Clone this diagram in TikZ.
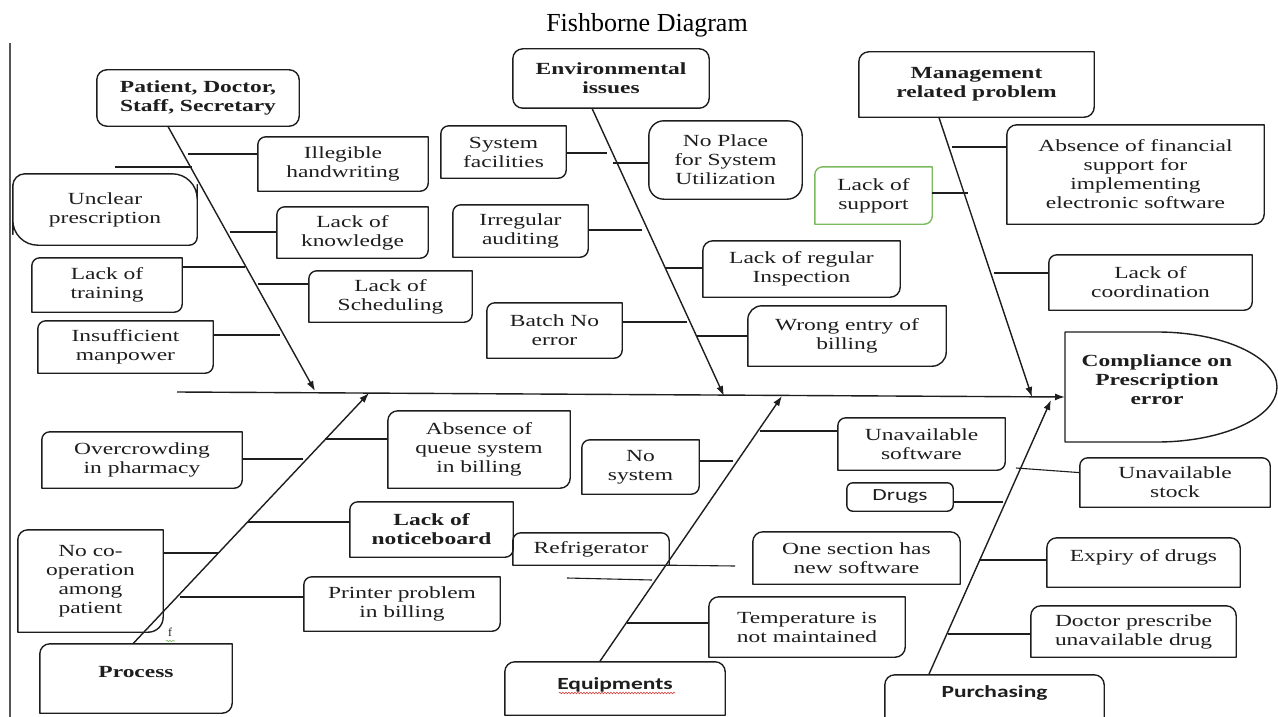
\documentclass[tikz,border=0pt]{standalone}
\usepackage{fontspec}
\setmainfont{Liberation Serif}
\newfontfamily\bxf{Liberation Serif}[FakeStretch=1.38]
\newfontfamily\bxs{Carlito}[FakeStretch=1.38]
\usetikzlibrary{arrows.meta,calc,decorations.pathmorphing}
\definecolor{ink}{RGB}{30,30,30}
\definecolor{grn}{RGB}{125,185,95}
\definecolor{wavy}{RGB}{215,60,60}
\tikzset{
 box/.style={draw=none, align=center, inner sep=0pt, text=ink, font=\bxf\fontsize{17}{19}\selectfont},
 bfbox/.style={box, font=\bxf\fontsize{17}{19}\selectfont\bfseries},
 sfbox/.style={box, font=\bxs\fontsize{17}{19}\selectfont},
 sfbfbox/.style={box, font=\bxs\fontsize{17}{19}\selectfont\bfseries},
 bline/.style={draw=ink, line width=1.4pt, line join=round},
 gline/.style={draw=grn, line width=1.4pt, line join=round},
 bone/.style={draw=ink, line width=1.4pt, -{Latex[length=10pt,width=7pt]}},
 rib/.style={draw=ink, line width=1.1pt},
}
% #1 style, #2 name, #3 x1, #4 y1, #5 x2, #6 y2, #7 text
\newcommand\mkbox[7][box]{\node[#1,minimum width={#5-#3},minimum height={#6-#4}] (#2) at ({(#3+#5)/2},{(#4+#6)/2}) {#7};}
% #1 line style, #2 name, radii NE, SE, SW, NW
\newcommand\mkborder[6][bline]{\draw[#1] (#2.north) [rounded corners=#3] -- (#2.north east) -- (#2.east) [rounded corners=#4] -- (#2.south east) -- (#2.south) [rounded corners=#5] -- (#2.south west) -- (#2.west) [rounded corners=#6] -- (#2.north west) -- (#2.north);}
\begin{document}
\begin{tikzpicture}[x=1pt,y=-1pt]
\useasboundingbox[fill=white] (0,0) rectangle (1278,717);
\node[font=\fontsize{26}{30}\selectfont] (title) at (647,25) {Fishborne Diagram};
\draw[draw=ink!75, line width=1.5pt] (10,43) -- (10,717);

% ---------- upper left branch
\mkbox[bfbox]{pds}{97}{70}{299}{126}{Patient, Doctor,\\Staff, Secretary}
\mkborder{pds}{10pt}{10pt}{10pt}{10pt}
\mkbox{ill}{258}{137}{428}{191}{Illegible\\handwriting}
\mkborder{ill}{0pt}{8pt}{0pt}{8pt}
\mkbox{unc}{13}{174}{197}{245}{Unclear\\prescription}
\mkborder{unc}{25pt}{8pt}{25pt}{12pt}
\mkbox{lok}{277}{207}{428}{258}{Lack of\\knowledge}
\mkborder{lok}{0pt}{8pt}{0pt}{8pt}
\mkbox{lot}{32}{258}{182}{312}{Lack of\\training}
\mkborder{lot}{0pt}{8pt}{0pt}{8pt}
\mkbox{los}{309}{271}{472}{322}{Lack of\\Scheduling}
\mkborder{los}{0pt}{8pt}{0pt}{8pt}
\mkbox{ins}{38}{321}{213}{373}{Insufficient\\manpower}
\mkborder{ins}{0pt}{8pt}{0pt}{8pt}

% ---------- lower left branch
\mkbox{ovc}{42}{432}{242}{488}{Overcrowding\\in pharmacy}
\mkborder{ovc}{0pt}{8pt}{0pt}{8pt}
\mkbox{aqs}{388}{411}{570}{488}{Absence of\\queue system\\in billing}
\mkborder{aqs}{0pt}{10pt}{0pt}{10pt}
\mkbox{nco}{18}{530}{163}{632}{No co-\\operation\\among\\patient}
\mkborder{nco}{0pt}{15pt}{0pt}{10pt}
\mkbox[bfbox]{lnb}{350}{502}{513}{557}{Lack of\\noticeboard}
\mkborder{lnb}{0pt}{8pt}{0pt}{8pt}
\mkbox{ppb}{304}{577}{500}{631}{Printer problem\\in billing}
\mkborder{ppb}{0pt}{8pt}{0pt}{8pt}
\mkbox[bfbox]{proc}{40}{644}{232}{713}{\raisebox{13pt}{Process}}
\mkborder{proc}{0pt}{10pt}{0pt}{10pt}
\node[font=\fontsize{12}{12}\selectfont, text=ink] (fmark) at (170,632) {f};
\draw[grn, line width=0.6pt, decorate, decoration={snake, amplitude=0.7pt, segment length=3pt}] (166,641) -- (175,641);

% ---------- upper middle branch
\mkbox[bfbox]{env}{513}{49}{709}{108}{Environmental\\issues}
\mkborder{env}{10pt}{10pt}{10pt}{10pt}
\mkbox{sf}{441}{126}{566}{178}{System\\facilities}
\mkborder{sf}{0pt}{8pt}{0pt}{8pt}
\mkbox{npl}{649}{121}{802}{199}{No Place\\for System\\Utilization}
\mkborder{npl}{15pt}{15pt}{15pt}{15pt}
\mkbox{ira}{453}{205}{588}{257}{Irregular\\auditing}
\mkborder{ira}{0pt}{8pt}{0pt}{8pt}
\mkbox{lri}{703}{241}{900}{297}{Lack of regular\\Inspection}
\mkborder{lri}{0pt}{10pt}{0pt}{10pt}
\mkbox{bne}{487}{303}{622}{358}{Batch No\\error}
\mkborder{bne}{0pt}{8pt}{0pt}{8pt}
\mkbox{web}{748}{306}{946}{366}{Wrong entry of\\billing}
\mkborder{web}{0pt}{14pt}{0pt}{14pt}

% ---------- lower middle branch
\mkbox{nsy}{582}{440}{699}{494}{No\\system}
\mkborder{nsy}{0pt}{8pt}{0pt}{8pt}
\mkbox{uns}{838}{418}{1005}{470}{Unavailable\\software}
\mkborder{uns}{0pt}{8pt}{0pt}{8pt}
\mkbox{ref}{513}{533}{669}{565}{Refrigerator}
\mkborder{ref}{8pt}{0pt}{0pt}{8pt}
\mkbox{osn}{753}{532}{960}{584}{One section has\\new software}
\mkborder{osn}{10pt}{0pt}{0pt}{10pt}
\mkbox{tnm}{709}{597}{905}{657}{Temperature is\\not maintained}
\mkborder{tnm}{0pt}{10pt}{0pt}{10pt}
\mkbox[sfbfbox]{equ}{505}{662}{725}{715}{\raisebox{9pt}{Equipments}}
\mkborder{equ}{10pt}{0pt}{0pt}{10pt}
\draw[wavy, line width=0.6pt, decorate, decoration={snake, amplitude=0.8pt, segment length=3pt}] (559,693) -- (675,693);

% ---------- upper right branch
\mkbox[bfbox]{mgmt}{859}{52}{1094}{117}{Management\\related problem}
\mkborder{mgmt}{0pt}{10pt}{0pt}{10pt}
\mkbox{afs}{1007}{125}{1264}{224}{Absence of financial\\support for\\implementing\\electronic software}
\mkborder{afs}{0pt}{10pt}{0pt}{10pt}
\mkbox{lsup}{815}{167}{932}{224}{Lack of\\support}
\mkborder[gline]{lsup}{0pt}{8pt}{0pt}{8pt}
\mkbox{loc}{1049}{255}{1252}{310}{Lack of\\coordination}
\mkborder{loc}{0pt}{8pt}{0pt}{8pt}

% ---------- lower right branch
\mkbox{ust}{1080}{458}{1270}{507}{Unavailable\\stock}
\mkborder{ust}{8pt}{0pt}{0pt}{8pt}
\mkbox[sfbox]{drg}{847}{483}{953}{511}{Drugs}
\mkborder{drg}{6pt}{6pt}{6pt}{6pt}
\mkbox{exp}{1047}{538}{1240}{587}{\raisebox{13pt}{Expiry of drugs}}
\mkborder{exp}{10pt}{0pt}{0pt}{10pt}
\mkbox{dpu}{1031}{606}{1236}{657}{Doctor prescribe\\unavailable drug}
\mkborder{dpu}{10pt}{0pt}{0pt}{10pt}
\mkbox[sfbfbox]{pur}{885}{675}{1104}{722}{\raisebox{13pt}{Purchasing}}
\mkborder{pur}{10pt}{0pt}{0pt}{10pt}

% ---------- effect
\node[bfbox, minimum width=184, minimum height=96] (eff) at (1157,380) {Compliance on\\Prescription\\error};
\draw[bline] (1157,332) -- (1065,332) -- (1065,442) -- (1157,442) .. controls (1223,442) and (1277,417) .. (1277,387) .. controls (1277,357) and (1223,332) .. (1157,332) -- cycle;

% ---------- spine and bones
\coordinate (s0) at (177,392);
\coordinate (s1) at (1065,397);
\draw[bone] (s0) -- (s1);
\coordinate (t1) at (315,391);
\coordinate (t2) at (369,393);
\coordinate (t3) at (724,396);
\coordinate (t4) at (782,396);
\coordinate (t5) at (1032,397);
\coordinate (t6) at (1051,400);
\draw[bone] ($(pds.south west)!0.351!(pds.south east)$) -- (t1);
\draw[bone] ($(proc.north west)!0.484!(proc.north east)$) -- (t2);
\draw[bone] ($(env.south west)!0.403!(env.south east)$) -- (t3);
\draw[bone] ($(equ.north west)!0.43!(equ.north east)$) -- (t4);
\draw[bone] ($(mgmt.south west)!0.34!(mgmt.south east)$) -- (t5);
\draw[bone] ($(pur.north west)!0.2!(pur.north east)$) -- (t6);

% ---------- ribs
\coordinate (r1) at (188,154);  \draw[rib] (r1) -- (r1 -| ill.west);
\coordinate (f1a) at (115,167); \coordinate (f1b) at (192,167); \draw[rib] (f1a) -- (f1b);
\coordinate (r2) at (230,232);  \draw[rib] (r2) -- (r2 -| lok.west);
\coordinate (r3) at (245,267);  \draw[rib] (r3) -- (r3 -| lot.east);
\coordinate (r4) at (258,284);  \draw[rib] (r4) -- (r4 -| los.west);
\coordinate (r5) at (280,335);  \draw[rib] (r5) -- (r5 -| ins.east);
\coordinate (r6) at (303,459);  \draw[rib] (r6) -- (r6 -| ovc.east);
\coordinate (r7) at (325,439);  \draw[rib] (r7) -- (r7 -| aqs.west);
\coordinate (r8) at (218,553);  \draw[rib] (r8) -- (r8 -| nco.east);
\coordinate (r9) at (248,522);  \draw[rib] (r9) -- (r9 -| lnb.west);
\coordinate (r10) at (180,597); \draw[rib] (r10) -- (r10 -| ppb.west);
\coordinate (r11) at (607,153); \draw[rib] (r11) -- (r11 -| sf.east);
\coordinate (r12) at (613,163); \draw[rib] (r12) -- (r12 -| npl.west);
\coordinate (r13) at (642,230); \draw[rib] (r13) -- (r13 -| ira.east);
\coordinate (r14) at (665,268); \draw[rib] (r14) -- (r14 -| lri.west);
\coordinate (r15) at (687,322); \draw[rib] (r15) -- (r15 -| bne.east);
\coordinate (r16) at (697,336); \draw[rib] (r16) -- (r16 -| web.west);
\coordinate (r17) at (952,147); \draw[rib] (r17) -- (r17 -| afs.west);
\coordinate (r18) at (968,193); \draw[rib] (r18) -- (r18 -| lsup.east);
\coordinate (r19) at (994,273); \draw[rib] (r19) -- (r19 -| loc.west);
\coordinate (r20) at (733,461); \draw[rib] (r20) -- (r20 -| nsy.east);
\coordinate (r21) at (760,431); \draw[rib] (r21) -- (r21 -| uns.west);
\coordinate (r22) at (735,566); \draw[rib] (ref.south east) -- (r22);
\coordinate (f2a) at (567,578); \coordinate (f2b) at (652,580); \draw[rib] (f2a) -- (f2b);
\coordinate (r23) at (627,623); \draw[rib] (r23) -- (r23 -| tnm.west);
\coordinate (r24) at (1016,468); \draw[rib] (r24) -- ($(ust.north west)!0.3!(ust.south west)$);
\coordinate (r25) at (1003,502); \draw[rib] (r25) -- (r25 -| drg.east);
\coordinate (r26) at (979,560); \draw[rib] (r26) -- (r26 -| exp.west);
\coordinate (r27) at (948,634); \draw[rib] (r27) -- (r27 -| dpu.west);
\end{tikzpicture}
\end{document}
